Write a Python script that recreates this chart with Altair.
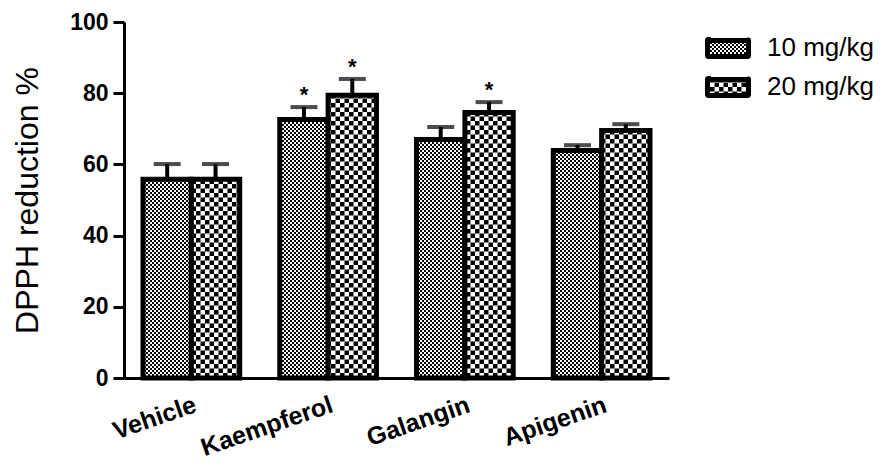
import altair as alt
import pandas as pd
import jinja2

# ---- data ----
groups = ["Vehicle", "Kaempferol", "Galangin", "Apigenin"]
doses = ["10 mg/kg", "20 mg/kg"]
mean10 = [55.8, 72.6, 67.0, 63.9]
err10 = [4.3, 3.5, 3.5, 1.5]
mean20 = [55.8, 79.4, 74.6, 69.5]
err20 = [4.3, 4.6, 2.9, 1.8]
sig10 = ["", "*", "", ""]
sig20 = ["", "*", "*", ""]

rows = []
for i, g in enumerate(groups):
    rows.append({"group": g, "dose": doses[0], "mean": mean10[i],
                 "upper": mean10[i] + err10[i], "sig": sig10[i]})
    rows.append({"group": g, "dose": doses[1], "mean": mean20[i],
                 "upper": mean20[i] + err20[i], "sig": sig20[i]})
df = pd.DataFrame(rows)

FONT = "Liberation Sans"

x_enc = alt.X("group:N", sort=groups,
              scale=alt.Scale(paddingInner=0.293, paddingOuter=0.139),
              axis=alt.Axis(title=None, labelAngle=-19, labelAlign="right",
                            labelBaseline="top", labelFontSize=25,
                            labelFontWeight="bold", labelPadding=14,
                            ticks=False, domainWidth=3, domainColor="black",
                            labelColor="black", labelFont=FONT))
xo_enc = alt.XOffset("dose:N", sort=doses,
                     scale=alt.Scale(paddingInner=0, paddingOuter=0))
y_scale = alt.Scale(domain=[0, 100], nice=False)

base = alt.Chart(df)

errs = base.mark_rule(color="black", strokeWidth=4).encode(
    x=x_enc, xOffset=xo_enc,
    y=alt.Y("mean:Q", scale=y_scale),
    y2="upper:Q",
)

bars = base.mark_bar(stroke="black", strokeWidth=5, strokeJoin="miter").encode(
    x=x_enc, xOffset=xo_enc,
    y=alt.Y("mean:Q", scale=y_scale,
            axis=alt.Axis(title="DPPH reduction %", values=[0, 20, 40, 60, 80, 100],
                          labelFontSize=23, labelFontWeight="bold", labelFont=FONT,
                          labelColor="black", labelPadding=5, tickSize=11,
                          tickWidth=3, tickColor="black", domainWidth=3,
                          domainColor="black", grid=False,
                          titleFontSize=32, titleFontWeight="normal",
                          titleFont=FONT, titleColor="black", titlePadding=25)),
    fill=alt.Fill("dose:N", sort=doses,
                  scale=alt.Scale(domain=doses, range=["url(#p10)", "url(#p20)"]),
                  legend=alt.Legend(title=None, orient="none", legendX=591, legendY=13,
                                    symbolType="M-2.05,-0.8H2.05Q2.158,-0.895 2.158,-0.8V0.8Q2.158,0.895 2.05,0.895H-2.05Q-2.158,0.895 -2.158,0.8V-0.8Q-2.158,-0.895 -2.05,-0.895Z",
                                    symbolSize=361, symbolStrokeColor="black",
                                    symbolStrokeWidth=5, symbolOpacity=1,
                                    labelFontSize=26, labelFont=FONT,
                                    labelColor="black", labelOffset=26,
                                    rowPadding=1, padding=0)),
)

caps = base.mark_tick(color="black", thickness=4, size=27, orient="horizontal").encode(
    x=x_enc, xOffset=xo_enc,
    y=alt.Y("upper:Q", scale=y_scale),
)

stars = base.mark_text(fontSize=22, fontWeight="bold", font=FONT, color="black",
                       baseline="alphabetic", dy=-5).encode(
    x=x_enc, xOffset=xo_enc,
    y=alt.Y("upper:Q", scale=y_scale),
    text="sig:N",
)

chart = alt.layer(errs, bars, caps, stars).properties(
    width=545, height=356,
    autosize=alt.AutoSizeParams(type="none"),
    padding={"left": 116, "top": 14, "right": 212, "bottom": 86},
).configure_view(stroke=None)

PAGE = jinja2.Template("""<!DOCTYPE html>
<html>
<head>
  <style>
    #{{ output_div }}.vega-embed { width: 100%; display: flex; }
    #{{ output_div }}.vega-embed details,
    #{{ output_div }}.vega-embed details summary { position: relative; }
  </style>
  <script type="text/javascript" src="{{ base_url }}/vega@{{ vega_version }}"></script>
  <script type="text/javascript" src="{{ base_url }}/vega-lite@{{ vegalite_version }}"></script>
  <script type="text/javascript" src="{{ base_url }}/vega-embed@{{ vegaembed_version }}"></script>
</head>
<body>
  <svg width="0" height="0" style="position:absolute;width:0;height:0" aria-hidden="true">
    <defs>
      <pattern id="p10" patternUnits="userSpaceOnUse" width="4" height="4">
        <rect x="0" y="0" width="4" height="4" fill="#ffffff"/>
        <rect x="0" y="0" width="2" height="2" fill="#000000"/>
        <rect x="2" y="2" width="2" height="2" fill="#000000"/>
      </pattern>
      <pattern id="p20" patternUnits="userSpaceOnUse" width="9" height="9">
        <rect x="0" y="0" width="9" height="9" fill="#ffffff"/>
        <rect x="0" y="0" width="4.5" height="4.5" fill="#000000"/>
        <rect x="4.5" y="4.5" width="4.5" height="4.5" fill="#000000"/>
      </pattern>
    </defs>
  </svg>
  <div id="{{ output_div }}"></div>
  <script>
    (function(vegaEmbed) {
      var spec = {{ spec }};
      var embedOpt = {{ embed_options }};
      function showError(el, error){
        el.innerHTML = '<div style="color:red;"><p>JavaScript Error: ' + error.message + '</p></div>';
        throw error;
      }
      const el = document.getElementById('{{ output_div }}');
      vegaEmbed("#{{ output_div }}", spec, embedOpt).catch(error => showError(el, error));
    })(vegaEmbed);
  </script>
</body>
</html>
""")

chart.save("out.html", embed_options={"renderer": "svg", "actions": False}, template=PAGE)
